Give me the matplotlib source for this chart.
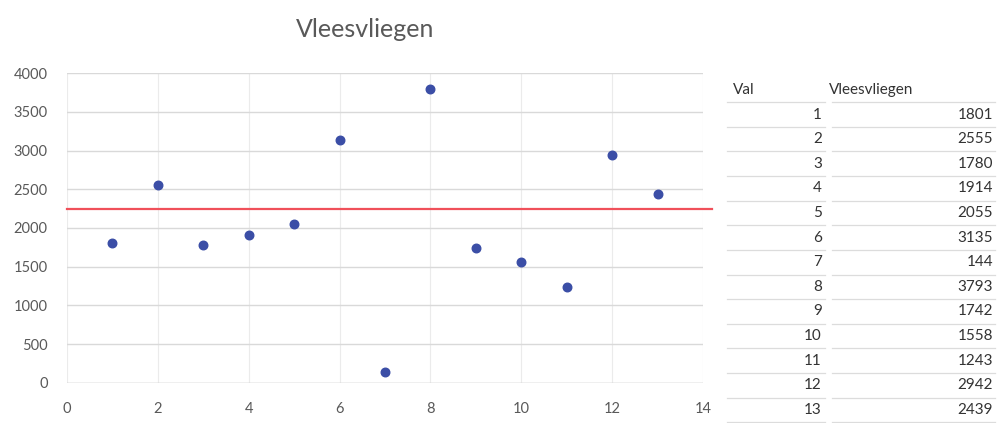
import matplotlib.pyplot as plt
from matplotlib.lines import Line2D

plt.rcParams['font.family'] = ['Lato', 'DejaVu Sans']

val = [1, 2, 3, 4, 5, 6, 7, 8, 9, 10, 11, 12, 13]
vleesvliegen = [1801, 2555, 1780, 1914, 2055, 3135, 144, 3793, 1742, 1558, 1243, 2942, 2439]
grens = 2240

grey = '#595959'

fig = plt.figure(figsize=(10, 4.23), dpi=100)
ax = fig.add_axes([0.067, 0.0946, 0.636, 0.7328])

ax.scatter(val, vleesvliegen, s=38, color='#3b4ea6', zorder=3)
ax.plot([0, 14.2], [grens, grens], color='#f0505a', lw=1.6, clip_on=False, zorder=2)

ax.set_xlim(0, 14)
ax.set_ylim(0, 4000)
ax.set_xticks(range(0, 15, 2))
ax.set_yticks(range(0, 4001, 500))
ax.grid(axis='y', color='#d9d9d9', lw=1)
ax.grid(axis='x', color='#ebebeb', lw=0.8)
for s in ax.spines.values():
    s.set_visible(False)
ax.axhline(0, color='#d0d0d0', lw=1)
ax.tick_params(length=0, labelsize=10.5, colors=grey)
ax.tick_params(axis='y', pad=14)
ax.tick_params(axis='x', pad=14)
ax.set_axisbelow(True)

fig.text(0.365, 0.93, 'Vleesvliegen', ha='center', va='center', fontsize=18, color=grey)

# table next to the chart
row_h = 24.6 / 423
y0 = 1 - 90 / 423
fs = 11
fig.text(0.733, y0, 'Val', ha='left', va='center', fontsize=fs, color='#333333')
fig.text(0.829, y0, 'Vleesvliegen', ha='left', va='center', fontsize=fs, color='#333333')
for i, (v, n) in enumerate(zip(val, vleesvliegen)):
    y = y0 - (i + 1) * row_h
    fig.text(0.822, y, str(v), ha='right', va='center', fontsize=fs, color='#333333')
    fig.text(0.993, y, str(n), ha='right', va='center', fontsize=fs, color='#333333')
for i in range(len(val) + 1):
    yl = y0 - (i + 0.5) * row_h
    fig.add_artist(Line2D([0.727, 0.825], [yl, yl], transform=fig.transFigure, color='#dcdcdc', lw=0.9))
    fig.add_artist(Line2D([0.832, 0.995], [yl, yl], transform=fig.transFigure, color='#dcdcdc', lw=0.9))

fig.savefig('out.png', dpi=100)
